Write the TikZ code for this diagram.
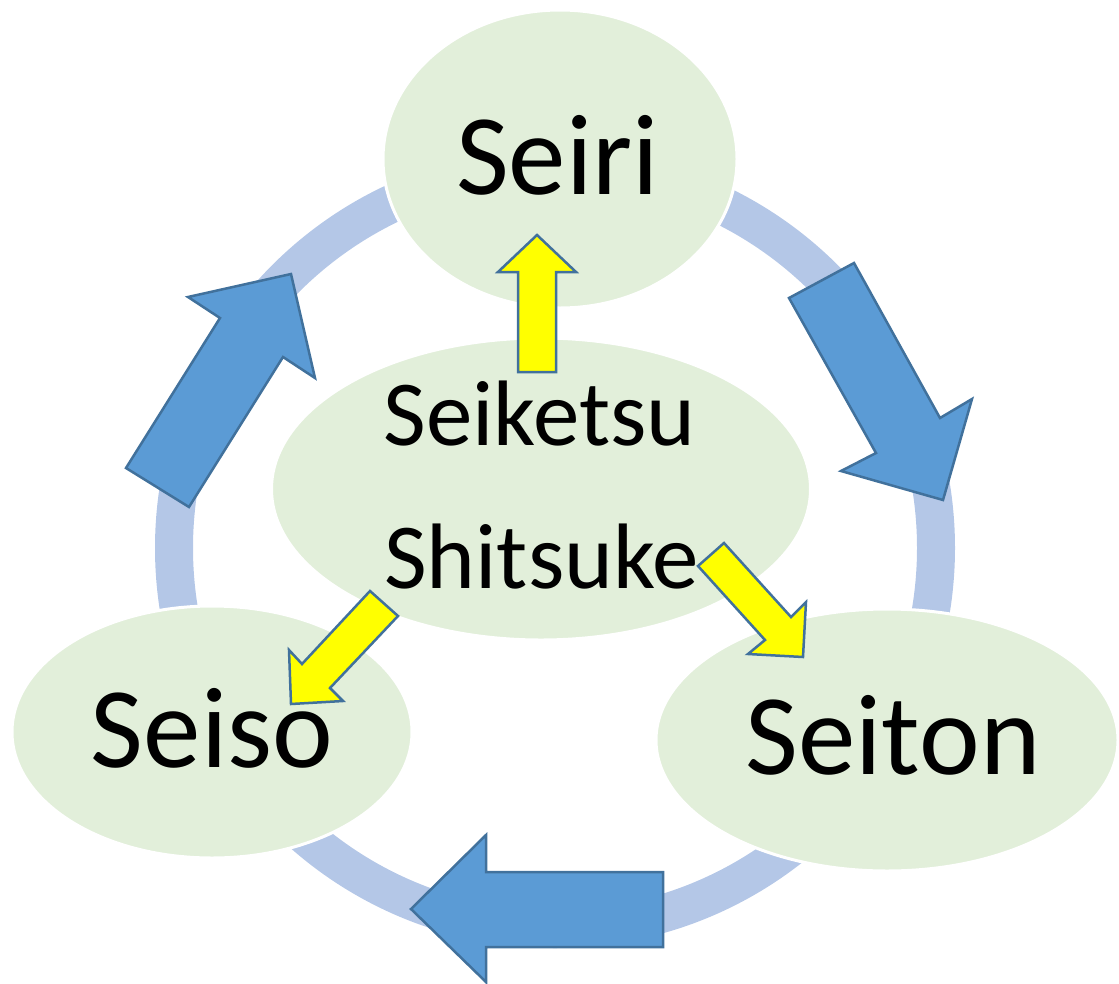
\documentclass[tikz,border=0pt]{standalone}
\usepackage{fontspec}
\setmainfont{Carlito}
\usetikzlibrary{shapes.geometric}
\definecolor{ringblue}{HTML}{B4C7E7}
\definecolor{ellgreen}{HTML}{E2EFDA}
\definecolor{arrblue}{HTML}{5B9BD5}
\definecolor{arrline}{HTML}{41719C}
\definecolor{arryellow}{HTML}{FFFF00}
\tikzset{
  sbubble/.style={ellipse, fill=ellgreen, draw=white, line width=3pt, inner sep=0pt},
  bigarrow/.style={fill=arrblue, draw=arrline, line width=2.5pt, line join=miter},
  yelarrow/.style={fill=arryellow, draw=arrline, line width=2.5pt, line join=miter},
  bigtxt/.style={font=\fontsize{115}{124}\selectfont, inner sep=0pt, anchor=base},
  midtxt/.style={font=\fontsize{93}{100}\selectfont, inner sep=0pt, anchor=base}
}
\begin{document}
\begin{tikzpicture}[x=1pt,y=-1pt]
\useasboundingbox (0,0) rectangle (1119,983);
% ring
\node[circle, minimum size=762pt, inner sep=0pt] (ring) at (555,548) {};
\draw[ringblue, line width=38pt] (ring.center) circle[radius=381pt];
% bubbles
\node[sbubble, minimum width=354pt, minimum height=298pt] (seiri) at (560,159) {};
\node[sbubble, minimum width=539pt, minimum height=302pt] (center) at (541,489) {};
\node[sbubble, minimum width=400pt, minimum height=252pt] (seiso) at (212,732) {};
\node[sbubble, minimum width=462pt, minimum height=262pt] (seiton) at (887,740) {};
% texts
\node[bigtxt] (tseiri) at (557.5,194) {Seiri};
\node[bigtxt] (tseiso) at (212,767) {Seiso};
\node[bigtxt] (tseiton) at (893,774) {Seiton};
\node[midtxt] (tseiketsu) at (539.5,445) {Seiketsu};
\node[midtxt] (tshitsuke) at (541.5,588) {Shitsuke};
% big blue arrows
\draw[bigarrow] (126,468) -- (220,318) -- (188,297) -- (291,274) -- (315,378) -- (283,357) -- (189,507) -- cycle;
\draw[bigarrow] (789,298) -- (854,263) -- (940,418) -- (972,399) -- (943,500) -- (841,471) -- (876,453) -- cycle;
\draw[bigarrow] (663,872) -- (486,872) -- (486,835) -- (411,909) -- (486,982) -- (486,947) -- (663,947) -- cycle;
% yellow arrows
\draw[yelarrow] (518,372) -- (518,272) -- (498,272) -- (537,235) -- (576,272) -- (556,272) -- (556,372) -- cycle;
\draw[yelarrow] (370,591) -- (398,616) -- (330,688) -- (343,701) -- (291,704) -- (289,650) -- (302,664) -- cycle;
\draw[yelarrow] (698,566) -- (724,543) -- (791,617) -- (806,602) -- (803,657) -- (748,654) -- (765,640) -- cycle;
\end{tikzpicture}
\end{document}
